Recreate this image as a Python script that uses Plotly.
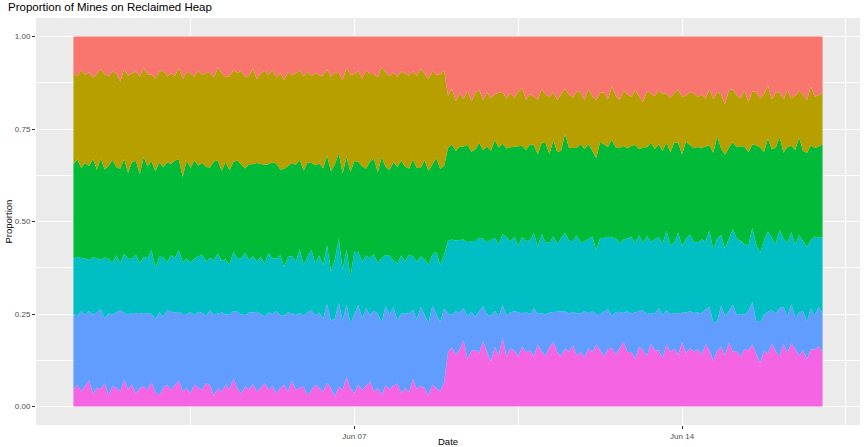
import pandas as pd
import plotly.graph_objects as go

# Mine counts per 2-hour window on the reclaimed heap, by mine type
# (two operating periods; the mix changes at the start of Jun 09).
mine_types = ["Type 1", "Type 2", "Type 3", "Type 4", "Type 5", "Type 6"]
colors = ["#F8766D", "#B79F00", "#00BA38", "#00BFC4", "#619CFF", "#F564E3"]

type6 = [
    # Jun 01 - Jun 08
    9, 12, 8, 11, 14, 7, 10, 9, 13, 6, 11, 10, 8, 15, 9, 12,
    7, 10, 11, 9, 13, 8, 6, 10, 12, 9, 11, 14, 8, 10, 7, 12,
    10, 9, 13, 11, 6, 10, 8, 12, 9, 15, 10, 7, 11, 9, 12, 8,
    10, 13, 9, 11, 7, 10, 12, 8, 14, 9, 10, 11, 6, 9, 12, 10,
    8, 13, 10, 5, 11, 9, 16, 10, 7, 12, 9, 11, 14, 8, 10, 6,
    12, 9, 11, 13, 7, 10, 8, 15, 9, 11, 10, 6, 12, 10, 8, 13,
    # Jun 09 - Jun 17
    29, 33, 27, 31, 35, 26, 30, 32, 28, 34, 30, 25, 31, 29, 36, 28,
    32, 30, 27, 33, 29, 31, 26, 34, 30, 28, 32, 35, 29, 27, 31, 30,
    33, 28, 30, 26, 32, 29, 34, 31, 27, 30, 33, 28, 31, 36, 29, 30,
    26, 32, 30, 28, 34, 31, 29, 27, 33, 30, 32, 28, 35, 29, 31, 30, 31,
    28, 34, 31, 24, 30, 33, 27, 37, 29, 31, 26, 32, 30, 35, 28, 23,
    31, 29, 34, 30, 27, 33, 29, 36, 31, 28, 30, 25, 32, 30, 34, 29,
]
type5 = [
    41, 38, 43, 39, 37, 44, 40, 42, 36, 45, 39, 41, 43, 37, 40, 38,
    44, 41, 39, 42, 36, 40, 45, 38, 41, 43, 39, 37, 42, 40, 44, 38,
    40, 42, 37, 39, 45, 41, 43, 38, 40, 36, 42, 44, 39, 41, 38, 43,
    40, 37, 42, 39, 44, 40, 38, 43, 36, 41, 40, 39, 45, 42, 38, 41,
    39, 43, 37, 41, 46, 38, 40, 35, 42, 44, 39, 41, 37, 43, 40, 38,
    45, 39, 42, 36, 41, 40, 44, 38, 37, 42, 40, 39, 43, 41, 36, 40,
    21, 18, 23, 20, 17, 24, 21, 19, 22, 18, 21, 25, 19, 22, 17, 23,
    20, 21, 24, 18, 22, 20, 25, 17, 21, 23, 19, 16, 22, 24, 20, 21,
    18, 23, 21, 25, 19, 22, 17, 20, 24, 21, 18, 23, 20, 16, 22, 21,
    25, 19, 21, 23, 17, 20, 22, 24, 18, 21, 19, 23, 16, 22, 20, 21, 20,
    22, 19, 24, 20, 16, 23, 21, 18, 25, 20, 22, 19, 21, 24, 17, 22,
    20, 23, 18, 21, 26, 19, 20, 22, 17, 24, 21, 20, 23, 18, 22, 21,
]
type4 = [
    30, 33, 28, 31, 27, 32, 29, 26, 34, 30, 28, 31, 25, 33, 30, 29,
    32, 27, 31, 30, 34, 28, 30, 32, 26, 31, 29, 33, 28, 30, 27, 31,
    29, 32, 30, 27, 31, 33, 28, 30, 26, 32, 29, 31, 34, 28, 30, 27,
    31, 29, 32, 30, 28, 33, 27, 30, 31, 29, 34, 28, 30, 32, 29, 31,
    29, 32, 27, 31, 35, 28, 30, 26, 33, 29, 31, 28, 32, 30, 27, 34,
    29, 31, 25, 32, 30, 28, 33, 29, 31, 27, 30, 32, 28, 34, 30, 29,
    39, 42, 37, 40, 36, 41, 38, 43, 39, 35, 40, 42, 38, 41, 37, 44,
    39, 40, 36, 42, 38, 41, 39, 37, 43, 40, 38, 41, 36, 39, 42, 40,
    38, 43, 39, 37, 41, 40, 35, 42, 39, 38, 44, 40, 37, 41, 39, 42,
    38, 40, 36, 43, 39, 41, 37, 40, 42, 38, 39, 44, 36, 40, 41, 39, 38,
    40, 37, 42, 38, 45, 39, 36, 41, 40, 43, 38, 39, 35, 42, 40, 37,
    41, 44, 39, 38, 42, 36, 40, 41, 39, 43, 37, 40, 38, 42, 39, 41,
]
type3 = [
    51, 54, 48, 52, 50, 55, 47, 53, 49, 51, 56, 48, 50, 53, 46, 52,
    51, 49, 54, 50, 47, 53, 51, 48, 55, 50, 52, 49, 46, 53, 51, 54,
    48, 50, 52, 47, 55, 51, 49, 53, 50, 48, 54, 52, 46, 51, 49, 53,
    50, 55, 48, 52, 51, 47, 54, 49, 50, 53, 48, 52, 51, 46, 54, 50,
    52, 49, 55, 50, 47, 53, 51, 57, 48, 50, 52, 46, 54, 51, 49, 53,
    50, 45, 52, 55, 49, 51, 48, 53, 50, 47, 54, 51, 49, 52, 50, 48,
    50, 53, 47, 51, 49, 54, 48, 52, 50, 46, 53, 49, 51, 55, 47, 50,
    52, 48, 54, 50, 49, 53, 46, 51, 50, 55, 48, 52, 49, 47, 53, 51,
    50, 48, 54, 49, 52, 46, 51, 53, 50, 47, 55, 49, 51, 52, 48, 50,
    53, 46, 51, 49, 54, 50, 48, 52, 47, 51, 55, 49, 50, 53, 48, 51, 52,
    49, 52, 47, 51, 55, 48, 50, 53, 46, 51, 49, 54, 50, 47, 52, 56,
    49, 51, 48, 53, 50, 45, 52, 49, 51, 54, 48, 50, 53, 47, 51, 50,
]
type2 = [
    49, 46, 52, 48, 50, 45, 51, 47, 53, 49, 48, 51, 46, 50, 52, 47,
    49, 53, 48, 50, 46, 51, 49, 52, 47, 50, 45, 49, 53, 48, 51, 46,
    50, 48, 52, 49, 47, 51, 53, 46, 50, 49, 48, 52, 50, 47, 51, 45,
    49, 52, 48, 50, 46, 53, 49, 51, 47, 50, 48, 52, 49, 46, 51, 48,
    50, 47, 52, 48, 44, 51, 49, 53, 46, 50, 48, 52, 49, 45, 51, 47,
    54, 49, 48, 51, 46, 50, 52, 48, 49, 53, 47, 50, 51, 46, 49, 52,
    28, 31, 26, 29, 25, 30, 27, 32, 28, 26, 30, 29, 24, 31, 27, 28,
    30, 26, 29, 32, 27, 28, 25, 30, 29, 27, 31, 26, 28, 30, 24, 29,
    27, 31, 28, 26, 30, 29, 32, 27, 28, 25, 30, 28, 26, 31, 29, 27,
    30, 28, 24, 31, 27, 29, 28, 32, 26, 30, 27, 29, 31, 25, 28, 30, 27,
    29, 26, 31, 28, 24, 30, 27, 33, 28, 29, 25, 31, 27, 30, 28, 26,
    32, 29, 27, 30, 24, 28, 31, 27, 29, 26, 30, 28, 33, 27, 29, 28,
]
type1 = [
    20, 22, 18, 21, 19, 23, 20, 17, 21, 22, 19, 20, 24, 18, 21, 20,
    19, 22, 17, 21, 20, 23, 19, 18, 22, 20, 21, 17, 23, 19, 20, 22,
    18, 21, 20, 19, 23, 17, 20, 22, 21, 18, 20, 19, 22, 21, 17, 23,
    20, 19, 21, 18, 22, 20, 24, 19, 21, 20, 18, 22, 19, 21, 20, 21,
    21, 18, 22, 19, 20, 24, 17, 21, 20, 19, 23, 18, 21, 20, 22, 16,
    20, 21, 19, 23, 18, 20, 22, 19, 21, 17, 20, 23, 19, 21, 20, 18,
    32, 29, 34, 31, 33, 30, 35, 32, 28, 33, 31, 34, 30, 32, 29, 35,
    31, 33, 30, 28, 34, 32, 31, 35, 29, 32, 33, 30, 34, 31, 28, 32,
    33, 30, 31, 34, 29, 32, 35, 31, 30, 33, 28, 32, 34, 30, 31, 33,
    29, 32, 35, 30, 31, 33, 28, 32, 30, 34, 31, 29, 33, 32, 30, 31, 33,
    31, 34, 29, 33, 30, 32, 36, 31, 28, 33, 32, 30, 35, 31, 29, 33,
    32, 27, 34, 31, 30, 33, 29, 35, 32, 30, 31, 34, 28, 32, 33, 30,
]

counts = pd.DataFrame(
    dict(zip(mine_types, [type1, type2, type3, type4, type5, type6])),
    index=pd.date_range("2020-06-01 00:00", periods=len(type1), freq="2h"),
)

fig = go.Figure()
# stack from the bottom (Type 6) up to the top (Type 1)
for name, color in reversed(list(zip(mine_types, colors))):
    fig.add_trace(go.Scatter(
        x=counts.index, y=counts[name], name=name, mode="lines",
        stackgroup="mines", groupnorm="fraction",
        line=dict(width=0, color=color), fillcolor=color,
        showlegend=False,
    ))

first, last = counts.index[0], counts.index[-1]
pad = (last - first) * 0.05

fig.update_layout(
    width=864, height=447,
    margin=dict(l=36, r=4, t=18, b=22),
    paper_bgcolor="white",
    plot_bgcolor="#EBEBEB",
    font=dict(family="Liberation Sans, Arial, sans-serif", color="#000000"),
    title=dict(
        text="Proportion of Mines on Reclaimed Heap",
        x=8 / 864, xref="container", xanchor="left",
        y=1 - 7 / 447, yref="container", yanchor="middle",
        font=dict(size=11.5, color="#000000"),
    ),
    xaxis=dict(
        range=[first - pad, last + pad],
        tickvals=[pd.Timestamp("2020-06-07"), pd.Timestamp("2020-06-14")],
        ticktext=["Jun 07", "Jun 14"],
        ticks="outside", ticklen=3, tickwidth=1, tickcolor="#333333",
        tickfont=dict(size=8, color="#4D4D4D"),
        showgrid=True, gridcolor="white", gridwidth=1.1,
        minor=dict(
            tickvals=[pd.Timestamp("2020-06-03 12:00"),
                      pd.Timestamp("2020-06-10 12:00"),
                      pd.Timestamp("2020-06-17 12:00")],
            showgrid=True, gridcolor="white", gridwidth=0.5, ticks="",
        ),
        zeroline=False, showline=False,
    ),
    yaxis=dict(
        range=[-0.05, 1.05],
        tickvals=[0, 0.25, 0.5, 0.75, 1.0],
        tickformat=".2f",
        ticks="outside", ticklen=3, tickwidth=1, tickcolor="#333333",
        tickfont=dict(size=8, color="#4D4D4D"),
        showgrid=True, gridcolor="white", gridwidth=1.1,
        minor=dict(
            tickvals=[0.125, 0.375, 0.625, 0.875],
            showgrid=True, gridcolor="white", gridwidth=0.5, ticks="",
        ),
        zeroline=False, showline=False,
    ),
    annotations=[
        dict(text="Date", xref="paper", yref="paper", x=0.5, y=-16 / 407,
             xanchor="center", yanchor="middle", showarrow=False,
             font=dict(size=9.5, color="#000000")),
        dict(text="Proportion", xref="paper", yref="paper", x=-28 / 824,
             y=0.5, xanchor="center", yanchor="middle", textangle=-90,
             showarrow=False, font=dict(size=9.5, color="#000000")),
    ],
)

fig.write_html("out.html")
